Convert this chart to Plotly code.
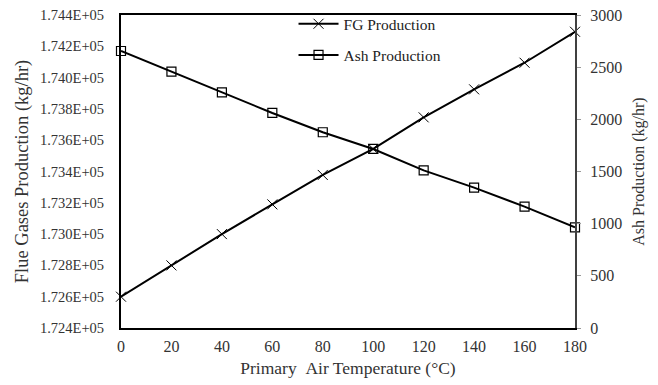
import plotly.graph_objects as go

temperature = [0, 20, 40, 60, 80, 100, 120, 140, 160, 180]
fg_production = [172600, 172800, 173000, 173190, 173378, 173544, 173746, 173925, 174095, 174293]
ash_production = [2655, 2457, 2259, 2061, 1876, 1716, 1511, 1345, 1163, 965]

left_tickvals = [172400, 172600, 172800, 173000, 173200, 173400, 173600, 173800, 174000, 174200, 174400]
left_ticktext = ["1.724E+05", "1.726E+05", "1.728E+05", "1.730E+05", "1.732E+05", "1.734E+05",
                 "1.736E+05", "1.738E+05", "1.740E+05", "1.742E+05", "1.744E+05"]
right_tickvals = [0, 500, 1000, 1500, 2000, 2500, 3000]
x_tickvals = [0, 20, 40, 60, 80, 100, 120, 140, 160, 180]

FONT = "Liberation Serif"
TXT = "#333333"

fig = go.Figure()
fig.add_trace(go.Scatter(
    x=temperature, y=fg_production, name="FG Production", mode="lines+markers",
    line=dict(color="black", width=2),
    marker=dict(symbol="x-thin-open", size=10, color="black", line=dict(color="black", width=1)),
    cliponaxis=False, legendgroup="a", yaxis="y"))
fig.add_trace(go.Scatter(
    x=temperature, y=ash_production, name="Ash Production", mode="lines+markers",
    line=dict(color="black", width=2),
    marker=dict(symbol="square-open", size=9, color="black", line=dict(color="black", width=1.2)),
    cliponaxis=False, legendgroup="b", yaxis="y2"))

fig.update_layout(
    width=658, height=385,
    margin=dict(l=121, r=83, t=15, b=57, autoexpand=False),
    paper_bgcolor="white", plot_bgcolor="white",
    font=dict(family=FONT, size=15, color=TXT),
    showlegend=True,
    legend=dict(x=0.38, y=1.025, xanchor="left", yanchor="top",
                bgcolor="rgba(0,0,0,0)", tracegroupgap=8, itemwidth=40,
                font=dict(family=FONT, size=15.5, color="#222222")),
    xaxis=dict(range=[0, 180], tickvals=x_tickvals, showgrid=False, zeroline=False,
               showline=True, linecolor="black", linewidth=2, mirror=True, ticks="",
               ticklabelstandoff=3, tickfont=dict(size=16),
               title=dict(text="Primary&nbsp;&nbsp;Air Temperature (°C)", standoff=8,
                          font=dict(family=FONT, size=17.5, color=TXT))),
    yaxis=dict(range=[172400, 174400], tickvals=left_tickvals, ticktext=left_ticktext,
               showgrid=False, zeroline=False, showline=True, linecolor="black", linewidth=2,
               ticks="", ticklabelstandoff=12, tickfont=dict(size=14.5),
               title=dict(text="Flue Gases Production (kg/hr)", standoff=6,
                          font=dict(family=FONT, size=18.5, color=TXT))),
    yaxis2=dict(range=[0, 3000], tickvals=right_tickvals, overlaying="y", side="right",
                showgrid=False, zeroline=False, showline=True, linecolor="#404040", linewidth=2,
                ticks="outside", ticklen=4, tickcolor="#999999", ticklabelstandoff=6,
                tickfont=dict(size=16),
                title=dict(text="Ash Production (kg/hr)", standoff=12,
                           font=dict(family=FONT, size=16, color=TXT))),
)

fig.write_html("out.html", config={"displayModeBar": False},
               post_script="document.body.style.margin='0';")
